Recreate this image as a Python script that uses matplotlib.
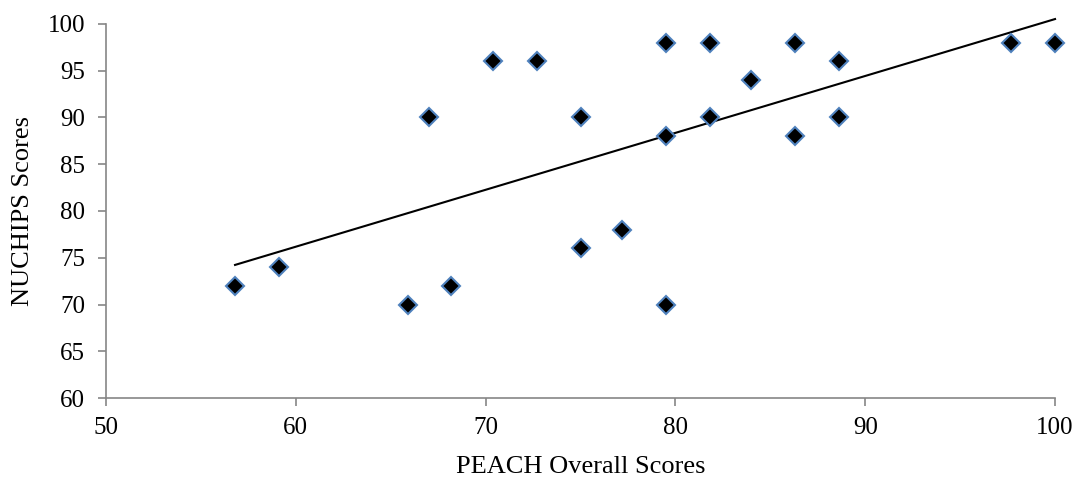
import numpy as np
import matplotlib
matplotlib.use("Agg")
import matplotlib.pyplot as plt

peach = [56.8, 59.1, 65.9, 67.0, 68.2, 70.4, 72.7, 75.0, 75.0, 77.2, 79.5, 79.5, 79.5,
         81.8, 81.8, 84.0, 86.3, 86.3, 88.6, 88.6, 97.7, 100.0]
nuchips = [72, 74, 70, 90, 72, 96, 96, 90, 76, 78, 98, 88, 70,
           98, 90, 94, 98, 88, 96, 90, 98, 98]

xticks = [50, 60, 70, 80, 90, 100]
yticks = [60, 65, 70, 75, 80, 85, 90, 95, 100]

plt.rcParams['font.family'] = ['Liberation Serif', 'DejaVu Serif']

fig = plt.figure(figsize=(10.78, 4.79), dpi=100)
ax = fig.add_axes([0.0983, 0.1691, 0.8804, 0.7808])

x = np.array(peach)
y = np.array(nuchips)
m, b = np.polyfit(x, y, 1)
xl = np.array([x.min(), x.max()])
ax.plot(xl, m * xl + b, color='black', lw=1.5, zorder=2, clip_on=False)

ax.plot(x, y, linestyle='none', marker='D', markersize=9, markerfacecolor='black',
        markeredgecolor='#4f81bd', markeredgewidth=1.5, zorder=3, clip_on=False)

ax.set_xlim(50, 100)
ax.set_ylim(60, 100)
ax.set_xticks(xticks)
ax.set_yticks(yticks)
for s in ['top', 'right']:
    ax.spines[s].set_visible(False)
for s in ['left', 'bottom']:
    ax.spines[s].set_color('#868686')
    ax.spines[s].set_linewidth(1.2)
ax.tick_params(direction='out', length=6, width=1.2, color='#868686',
               labelsize=18, labelcolor='black')
ax.tick_params(axis='y', pad=9)
ax.tick_params(axis='x', pad=8)
ax.set_xlabel('PEACH Overall Scores', fontsize=19, labelpad=12)
ax.set_ylabel('NUCHIPS Scores', fontsize=19, labelpad=10)

fig.savefig('out.png', dpi=100)
